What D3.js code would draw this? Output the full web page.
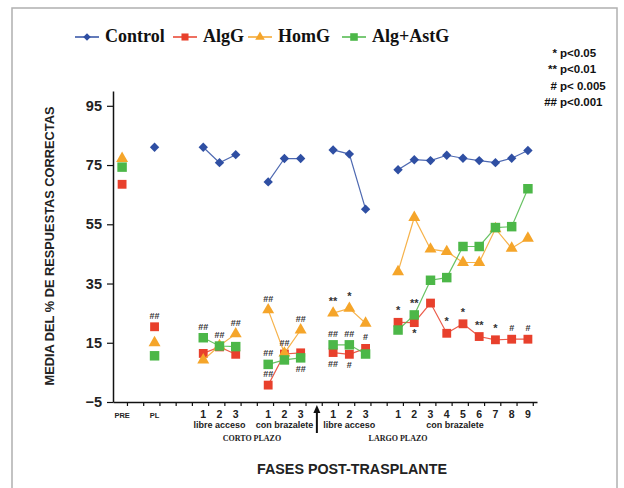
<!DOCTYPE html>
<html>
<head>
<meta charset="utf-8">
<script src="https://cdn.jsdelivr.net/npm/d3@7"></script>
<style>
  body { margin: 0; background: #fff; }
  svg { display: block; }
</style>
</head>
<body>
<script>
// slots along the x axis ("" = empty gap slot)
const slotLabels = ["PRE", "", "PL", "", "", "1", "2", "3", "", "1", "2", "3", "", "1", "2", "3", "", "1", "2", "3", "4", "5", "6", "7", "8", "9"];

// series values per slot (null = no point)
const control  = [null, null, 81, null, null, 81, 75.8, 78.5, null, 69.3, 77.2, 77.2, null, 80.1, 78.7, 60.1, null, 73.4, 76.8, 76.5, 78.3, 77.3, 76.5, 75.8, 77.3, 79.9];
const algG     = [68.5, null, 20.4, null, null, 11.4, 13.6, 11.1, null, 0.7, 11.2, 11.6, null, 11.7, 11.1, 13.1, null, 21.9, 21.8, 28.4, 18.2, 21.4, 17.1, 16.0, 16.2, 16.2];
const homG     = [77.2, null, 15.0, null, null, 9.2, 14.0, 18.0, null, 26.1, 11.5, 19.3, null, 25.0, 26.6, 21.6, null, 39.0, 57.3, 46.6, 45.8, 42.1, 42.1, 53.5, 46.9, 50.3];
const algAstG  = [74.3, null, 10.6, null, null, 16.7, 13.9, 13.7, null, 7.7, 9.2, 9.9, null, 14.3, 14.3, 11.2, null, 19.3, 24.4, 36.1, 37.0, 47.5, 47.5, 53.9, 54.2, 67.0];

const seriesNames = ["Control", "AlgG", "HomG", "Alg+AstG"];

// group captions under the numbers: [first slot, last slot, text]
const phaseGroups = [[5, 7, "libre acceso"], [9, 11, "con brazalete"], [13, 15, "libre acceso"], [20, 22, "con brazalete"]];
const termGroups = [[5, 11, "CORTO PLAZO"], [13, 21, "LARGO PLAZO"]];
const arrowSlot = 12;

// significance marks: [slot, series, mark, side]
const sigMarks = [
  [2, "AlgG", "##", "up"],
  [5, "Alg+AstG", "##", "up"],
  [6, "Alg+AstG", "##", "up"],
  [7, "HomG", "##", "up"],
  [9, "HomG", "##", "up"],
  [9, "Alg+AstG", "##", "up"],
  [9, "AlgG", "##", "up"],
  [10, "AlgG", "##", "up"],
  [11, "HomG", "##", "up"],
  [11, "Alg+AstG", "##", "down"],
  [13, "HomG", "**", "up"],
  [13, "Alg+AstG", "##", "up"],
  [13, "AlgG", "##", "down"],
  [14, "HomG", "*", "up"],
  [14, "Alg+AstG", "##", "up"],
  [14, "AlgG", "#", "down"],
  [15, "AlgG", "#", "up"],
  [17, "AlgG", "*", "up"],
  [18, "Alg+AstG", "**", "up"],
  [18, "AlgG", "*", "down"],
  [20, "AlgG", "*", "up"],
  [21, "AlgG", "*", "up"],
  [22, "AlgG", "**", "up"],
  [23, "AlgG", "*", "up"],
  [24, "AlgG", "#", "up"],
  [25, "AlgG", "#", "up"]
];

const sigLegendMarks = ["*", "**", "#", "##"];
const sigLegendText = ["p<0.05", "p<0.01", "p< 0.005", "p<0.001"];

const yTicks = [-5, 15, 35, 55, 75, 95];

const colors = { "Control": "#2f4fa3", "AlgG": "#e8402c", "HomG": "#f5a52a", "Alg+AstG": "#4cb748" };
const valuesBy = { "Control": control, "AlgG": algG, "HomG": homG, "Alg+AstG": algAstG };

const W = 624, H = 488;
const svg = d3.select("body").append("svg").attr("width", W).attr("height", H);

// frame
svg.append("rect").attr("x", 12).attr("y", 8).attr("width", 605).attr("height", 490)
  .attr("fill", "none").attr("stroke", "#b0b0b0").attr("stroke-width", 1.5);

const x = d3.scaleLinear().domain([-0.56, slotLabels.length - 0.44]).range([113, 537]);
const y = d3.scaleLinear().domain([-5, 100]).range([402, 91]);

const sans = "'Liberation Sans', Arial, sans-serif";
const serif = "'Liberation Serif', 'Times New Roman', serif";

// y axis
const yAxis = svg.append("g").attr("transform", "translate(113,0)")
  .call(d3.axisLeft(y).tickValues(yTicks).tickSize(6).tickSizeOuter(0).tickPadding(5));
yAxis.select(".domain").attr("stroke", "#111").attr("stroke-width", 1.5);
yAxis.selectAll(".tick line").attr("stroke", "#111").attr("stroke-width", 1.2);
yAxis.selectAll(".tick text").attr("font-family", sans).attr("font-weight", "bold")
  .attr("font-size", 14.5).attr("fill", "#222");

// x axis
const xAxis = svg.append("g").attr("transform", "translate(0,402)")
  .call(d3.axisBottom(x).tickValues(d3.range(slotLabels.length).map(i => i + 0.3))
    .tickFormat("").tickSize(4).tickSizeOuter(0));
xAxis.select(".domain").attr("stroke", "#111").attr("stroke-width", 1.5);
xAxis.selectAll(".tick line").attr("stroke", "#111").attr("stroke-width", 1.2);

// slot labels
svg.append("g").selectAll("text")
  .data(slotLabels.map((t, i) => ({ t, i })).filter(d => d.t !== ""))
  .join("text")
  .attr("x", d => x(d.i))
  .attr("y", 418)
  .attr("text-anchor", "middle")
  .attr("font-family", sans).attr("font-weight", "bold")
  .attr("font-size", d => isNaN(+d.t) ? 7.5 : 10.5)
  .attr("fill", "#222")
  .text(d => d.t);

svg.append("g").selectAll("text").data(phaseGroups).join("text")
  .attr("x", d => (x(d[0]) + x(d[1])) / 2 - (d[0] === 20 ? 8 : 0))
  .attr("y", 427.5)
  .attr("text-anchor", "middle")
  .attr("font-family", sans).attr("font-weight", "bold").attr("font-size", 9)
  .attr("fill", "#222")
  .text(d => d[2]);

svg.append("g").selectAll("text").data(termGroups).join("text")
  .attr("x", d => (x(d[0]) + x(d[1])) / 2)
  .attr("y", 441)
  .attr("text-anchor", "middle")
  .attr("font-family", serif).attr("font-weight", "bold").attr("font-size", 8)
  .attr("fill", "#222")
  .text(d => d[2]);

// arrow
const ax = x(arrowSlot);
svg.append("line").attr("x1", ax).attr("x2", ax).attr("y1", 433).attr("y2", 411)
  .attr("stroke", "#111").attr("stroke-width", 2);
svg.append("path").attr("d", `M${ax - 3.5},${413} L${ax},${405} L${ax + 3.5},${413} Z`).attr("fill", "#111");

// axis titles
svg.append("text").attr("x", 352).attr("y", 474).attr("text-anchor", "middle")
  .attr("font-family", sans).attr("font-weight", "bold").attr("font-size", 14.3).attr("fill", "#222")
  .text("FASES POST-TRASPLANTE");

svg.append("text").attr("transform", "translate(54,246) rotate(-90)").attr("text-anchor", "middle")
  .attr("font-family", sans).attr("font-weight", "bold").attr("font-size", 12.8).attr("fill", "#222")
  .text("MEDIA DEL % DE RESPUESTAS CORRECTAS");

// markers
const shapes = {
  "Control": d3.symbol().type(d3.symbolSquare).size(44),
  "AlgG": d3.symbol().type(d3.symbolSquare).size(78),
  "HomG": d3.symbol().type(d3.symbolTriangle).size(62),
  "Alg+AstG": d3.symbol().type(d3.symbolSquare).size(90)
};
const rot = name => name === "Control" ? " rotate(45)" : "";

const line = d3.line().defined(d => d.v != null).x(d => x(d.i)).y(d => y(d.v));

seriesNames.forEach(name => {
  const pts = valuesBy[name].map((v, i) => ({ v, i }));
  const g = svg.append("g");
  g.append("path").datum(pts).attr("d", line)
    .attr("fill", "none").attr("stroke", colors[name]).attr("stroke-width", 1.2).attr("opacity", 0.85);
  g.selectAll("path.m").data(pts.filter(d => d.v != null)).join("path")
    .attr("class", "m")
    .attr("d", shapes[name]())
    .attr("transform", d => `translate(${x(d.i)},${y(d.v)})${rot(name)}`)
    .attr("fill", colors[name]);
});

// significance marks
svg.append("g").selectAll("text").data(sigMarks).join("text")
  .attr("x", d => x(d[0]))
  .attr("y", d => y(valuesBy[d[1]][d[0]]) + (d[3] === "up" ? -8 : 14))
  .attr("text-anchor", "middle")
  .attr("font-family", sans).attr("font-weight", "bold")
  .attr("font-size", d => d[2].includes("*") ? 11 : 9)
  .attr("fill", "#333")
  .text(d => d[2]);

// legend
const legendX = [75, 173, 248, 342];
const lg = svg.append("g");
seriesNames.forEach((name, k) => {
  const lx = legendX[k];
  lg.append("line").attr("x1", lx).attr("x2", lx + 24).attr("y1", 37).attr("y2", 37)
    .attr("stroke", colors[name]).attr("stroke-width", 1.5);
  lg.append("path").attr("d", shapes[name]())
    .attr("transform", `translate(${lx + 12},37)${rot(name)} scale(0.8)`).attr("fill", colors[name]);
  lg.append("text").attr("x", lx + 30).attr("y", 42)
    .attr("font-family", serif).attr("font-weight", "bold").attr("font-size", 18).attr("fill", "#111")
    .text(name);
});

// significance legend
const sl = svg.append("g").attr("font-family", sans).attr("font-weight", "bold").attr("font-size", 11.5).attr("fill", "#111");
sigLegendText.forEach((t, k) => {
  const by = 57 + k * 16.3;
  sl.append("text").attr("x", 557).attr("y", by).attr("text-anchor", "end").text(sigLegendMarks[k]);
  sl.append("text").attr("x", 560).attr("y", by).text(t);
});
</script>
</body>
</html>
